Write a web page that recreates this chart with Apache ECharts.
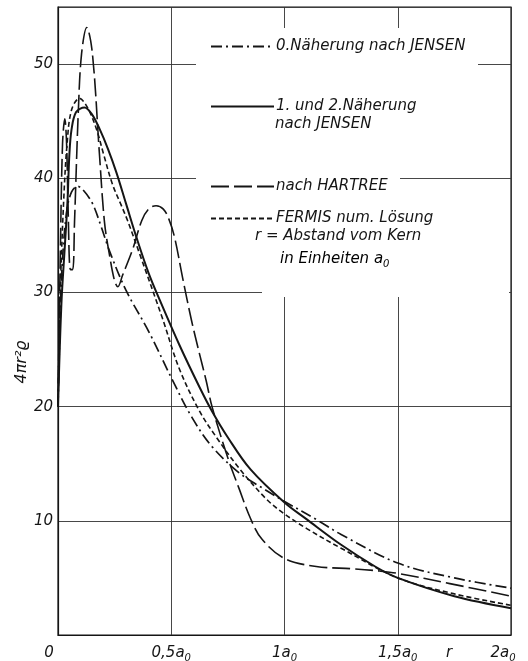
<!DOCTYPE html>
<html lang="de">
<head>
  <meta charset="utf-8">
  <title>Radiale Dichteverteilung</title>
  <style>
    * { margin: 0; padding: 0; }
    body { background: #fff; }
    #chart-container { width: 528px; height: 661px; }
  </style>
</head>
<body>
  <div id="chart-container"></div>
  <script src="https://fastly.jsdelivr.net/npm/echarts@6/dist/echarts.min.js"></script>
  <script>
    // r in Einheiten a0, Werte 4*pi*r^2*rho
    const rJensen0 = [0, 0.01, 0.02, 0.04, 0.06, 0.086, 0.11, 0.152, 0.19, 0.228, 0.3, 0.4, 0.506, 0.59, 0.68, 0.8, 0.9, 1.0, 1.15, 1.25, 1.5, 1.75, 2.0];
    const vJensen0 = [20, 28, 33, 37.3, 38.8, 39.3, 39.0, 37.8, 35.8, 33.6, 30.2, 26.6, 22.3, 19.1, 16.5, 14.2, 12.9, 11.7, 10.0, 8.8, 6.3, 5.0, 4.1];

    const rJensen12 = [0, 0.015, 0.03, 0.042, 0.05, 0.06, 0.08, 0.117, 0.15, 0.184, 0.22, 0.258, 0.3, 0.35, 0.4, 0.45, 0.536, 0.625, 0.68, 0.75, 0.85, 1.0, 1.1, 1.25, 1.4, 1.5, 1.75, 2.0];
    const vJensen12 = [20, 29, 34, 38, 42, 44.3, 45.8, 46.2, 45.6, 44.3, 42.6, 40.5, 37.8, 34.6, 31.7, 29.3, 25.4, 21.7, 19.6, 17.3, 14.5, 11.6, 10.1, 7.9, 6.0, 5.0, 3.4, 2.35];

    const rHartree = [0, 0.01, 0.02, 0.03, 0.038, 0.045, 0.055, 0.065, 0.073, 0.09, 0.104, 0.127, 0.152, 0.183, 0.205, 0.228, 0.25, 0.264, 0.285, 0.33, 0.37, 0.4, 0.433, 0.465, 0.49, 0.515, 0.55, 0.59, 0.625, 0.655, 0.68, 0.75, 0.8, 0.85, 0.9, 1.0, 1.14, 1.3, 1.42, 1.5, 1.73, 2.0];
    const vHartree = [20, 33, 43, 45.2, 43, 37, 32, 32, 36.2, 46, 50.9, 53.2, 50.9, 42.1, 36.2, 33.2, 31, 30.5, 31.5, 33.8, 36.3, 37.3, 37.6, 37.3, 36.4, 34.8, 31.3, 27.5, 24.6, 22.2, 20, 15.5, 12.8, 10.2, 8.4, 6.7, 6.0, 5.8, 5.6, 5.4, 4.5, 3.4];

    const rFermi = [0, 0.01, 0.025, 0.04, 0.06, 0.095, 0.13, 0.17, 0.2, 0.24, 0.28, 0.307, 0.36, 0.46, 0.536, 0.625, 0.7, 0.8, 0.92, 1.0, 1.1, 1.25, 1.5, 1.75, 2.0];
    const vFermi = [20, 30, 38, 43, 46, 47, 46.2, 44.3, 42.2, 39.5, 37.6, 36.3, 33.4, 27.8, 23.3, 19.6, 17.3, 14.6, 11.9, 10.6, 9.3, 7.6, 5.0, 3.6, 2.6];

    const seriesNames = ['0.Näherung nach JENSEN', '1. und 2.Näherung', 'nach HARTREE', 'FERMIS num. Lösung'];
    const xTickMain = ['0', '0,5a', '1a', '1,5a', '2a'];
    const xTickSub = ['', '0', '0', '0', '0'];

    const dom = document.getElementById('chart-container');
    const myChart = echarts.init(dom, null, { renderer: 'canvas' });

    const font = 'DejaVu Sans, sans-serif';
    const ink = '#151515';

    function zip(xs, ys) {
      return xs.map((x, i) => [x, ys[i]]);
    }

    function line(name, xs, ys, type, width) {
      return {
        name: name,
        type: 'line',
        data: zip(xs, ys),
        symbol: 'none',
        smooth: 0.35,
        itemStyle: { color: ink },
        lineStyle: { color: ink, width: width, type: type },
        z: 3
      };
    }

    function legendAt(name, top) {
      return {
        data: [name],
        left: 205,
        top: top,
        itemWidth: 63,
        itemHeight: 14,
        itemStyle: { opacity: 0 },
        selectedMode: false,
        textStyle: { fontFamily: font, fontStyle: 'italic', fontSize: 15, color: ink, padding: [0, 0, 0, -3] }
      };
    }

    const sub = { fontFamily: font, fontStyle: 'italic', fontSize: 10, color: ink, verticalAlign: 'bottom', lineHeight: 12 };
    const main = { fontFamily: font, fontStyle: 'italic', fontSize: 15, color: ink, lineHeight: 20 };

    function mask(x, y, w, h) {
      return { type: 'rect', shape: { x: x, y: y, width: w, height: h }, style: { fill: '#fff' }, z: 1, silent: true };
    }

    const option = {
      animation: false,
      grid: {
        left: 58, right: 17, top: 7, bottom: 26,
        outerBoundsMode: 'none',
        containLabel: false,
        show: true, borderColor: ink, borderWidth: 1.2
      },
      legend: [
        legendAt(seriesNames[0], 34),
        legendAt(seriesNames[1], 94),
        legendAt(seriesNames[2], 174),
        legendAt(seriesNames[3], 206)
      ],
      xAxis: {
        type: 'value',
        min: 0, max: 2, interval: 0.5,
        axisLine: { show: true, lineStyle: { color: ink, width: 1.2 } },
        axisTick: { show: false },
        splitLine: { show: true, lineStyle: { color: '#333', width: 0.9 } },
        axisLabel: {
          margin: 8,
          formatter: function (v) {
            const i = Math.round(v / 0.5);
            if (i === 0) return '{m|' + xTickMain[0] + '}{g| }';
            if (i === 4) return '{m|' + xTickMain[4] + '}{s|' + xTickSub[4] + '}{h| }';
            return '{m|' + xTickMain[i] + '}{s|' + xTickSub[i] + '}';
          },
          rich: {
            m: main,
            s: sub,
            g: { width: 18 },
            h: { width: 16 }
          }
        }
      },
      yAxis: {
        type: 'value',
        min: 0, max: 55, interval: 10,
        axisLine: { show: true, lineStyle: { color: ink, width: 1.2 } },
        axisTick: { show: false },
        splitLine: { show: true, lineStyle: { color: '#333', width: 0.9 } },
        axisLabel: {
          margin: 5,
          showMaxLabel: false,
          fontFamily: font, fontStyle: 'italic', fontSize: 15, color: ink,
          formatter: function (v) { return (v === 0 || v > 50) ? '' : String(v); }
        }
      },
      graphic: [
        mask(196, 28, 282, 148),
        mask(196, 176, 204, 7),
        mask(196, 183, 313, 109),
        mask(262, 292, 247, 5),
        {
          type: 'text', left: 275, top: 117, z: 5,
          style: { text: 'nach JENSEN', font: 'italic 15px DejaVu Sans', fill: ink }
        },
        {
          type: 'text', left: 255, top: 229, z: 5,
          style: { text: 'r = Abstand vom Kern', font: 'italic 15px DejaVu Sans', fill: ink }
        },
        {
          type: 'text', left: 280, top: 252, z: 5,
          style: { text: '{m|in Einheiten a}{s|0}', rich: { m: main, s: sub } }
        },
        {
          type: 'text', left: 446, top: 646, z: 5,
          style: { text: 'r', font: 'italic 15px DejaVu Sans', fill: ink }
        },
        {
          type: 'text', x: 22, y: 362, rotation: Math.PI / 2, z: 5,
          style: {
            text: '4πr²ϱ', font: 'italic 16px DejaVu Sans', fill: ink,
            align: 'center', verticalAlign: 'middle'
          }
        }
      ],
      series: [
        line(seriesNames[0], rJensen0, vJensen0, [11, 4, 2, 4], 1.7),
        line(seriesNames[1], rJensen12, vJensen12, 'solid', 2),
        line(seriesNames[2], rHartree, vHartree, [18, 5], 1.6),
        line(seriesNames[3], rFermi, vFermi, [5, 3], 1.6)
      ]
    };

    myChart.setOption(option);
    window.addEventListener('resize', myChart.resize);
  </script>
</body>
</html>
